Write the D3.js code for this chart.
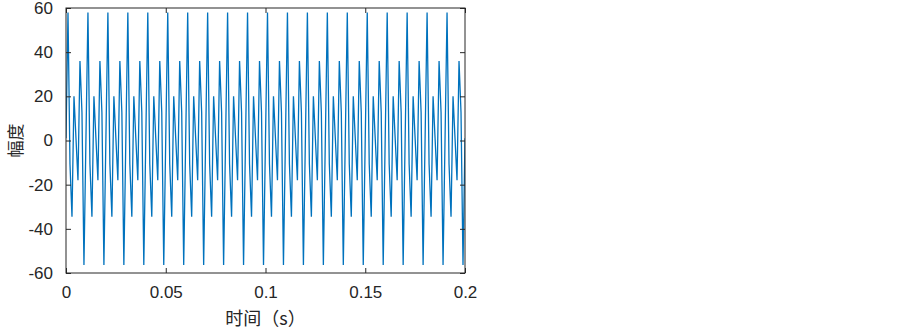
<!DOCTYPE html>
<html>
<head>
<meta charset="utf-8">
<script src="https://cdn.jsdelivr.net/npm/d3@7/dist/d3.min.js"></script>
<style>
  html, body { margin: 0; padding: 0; background: #fff; }
  svg { display: block; }
</style>
</head>
<body>
<div id="chart"></div>
<script>
// sampled signal, one value per millisecond, 0 .. 0.2 s
const sampleStep = 0.001;
const amp = [
  1, 58, -10.8, -34.5, 20, 1, -18, 36, 12.8, -56.4,
  1, 58, -10.8, -34.5, 20, 1, -18, 36, 12.8, -56.4,
  1, 58, -10.8, -34.5, 20, 1, -18, 36, 12.8, -56.4,
  1, 58, -10.8, -34.5, 20, 1, -18, 36, 12.8, -56.4,
  1, 58, -10.8, -34.5, 20, 1, -18, 36, 12.8, -56.4,
  1, 58, -10.8, -34.5, 20, 1, -18, 36, 12.8, -56.4,
  1, 58, -10.8, -34.5, 20, 1, -18, 36, 12.8, -56.4,
  1, 58, -10.8, -34.5, 20, 1, -18, 36, 12.8, -56.4,
  1, 58, -10.8, -34.5, 20, 1, -18, 36, 12.8, -56.4,
  1, 58, -10.8, -34.5, 20, 1, -18, 36, 12.8, -56.4,
  1, 58, -10.8, -34.5, 20, 1, -18, 36, 12.8, -56.4,
  1, 58, -10.8, -34.5, 20, 1, -18, 36, 12.8, -56.4,
  1, 58, -10.8, -34.5, 20, 1, -18, 36, 12.8, -56.4,
  1, 58, -10.8, -34.5, 20, 1, -18, 36, 12.8, -56.4,
  1, 58, -10.8, -34.5, 20, 1, -18, 36, 12.8, -56.4,
  1, 58, -10.8, -34.5, 20, 1, -18, 36, 12.8, -56.4,
  1, 58, -10.8, -34.5, 20, 1, -18, 36, 12.8, -56.4,
  1, 58, -10.8, -34.5, 20, 1, -18, 36, 12.8, -56.4,
  1, 58, -10.8, -34.5, 20, 1, -18, 36, 12.8, -56.4,
  1, 58, -10.8, -34.5, 20, 1, -18, 36, 12.8, -56.4,
  1
];
const xTicks = [0, 0.05, 0.1, 0.15, 0.2];
const yTicks = [-60, -40, -20, 0, 20, 40, 60];
const xLabel = '时间（s）';
const yLabel = '幅度';

const W = 903, H = 330;
const M = { left: 66, top: 8, right: 903 - 465, bottom: 330 - 273 };
const iw = W - M.left - M.right, ih = H - M.top - M.bottom;

const COL = { line: '#0072BD', axis: '#262626' };
const FONT = "'Liberation Sans', Arial, sans-serif";
const CJK = "'Noto Sans CJK SC', 'Noto Sans', sans-serif";

const svg = d3.select('#chart').append('svg')
  .attr('width', W).attr('height', H)
  .attr('viewBox', `0 0 ${W} ${H}`);

const x = d3.scaleLinear().domain([0, 0.2]).range([0, iw]);
const y = d3.scaleLinear().domain([-60, 60]).range([ih, 0]);

const g = svg.append('g').attr('transform', `translate(${M.left},${M.top})`);

const defs = svg.append('defs');
defs.append('clipPath').attr('id', 'clip')
  .append('rect').attr('width', iw).attr('height', ih);

// signal
const line = d3.line()
  .x((d, i) => x(i * sampleStep))
  .y(d => y(d));

g.append('path')
  .datum(amp)
  .attr('clip-path', 'url(#clip)')
  .attr('fill', 'none')
  .attr('stroke', COL.line)
  .attr('stroke-width', 1.3)
  .attr('stroke-linejoin', 'miter')
  .attr('d', line);

// axes, ticks point inward, mirrored on top/right
const tk = 5;
const styleAxis = sel => {
  sel.select('.domain').remove();
  sel.selectAll('line').attr('stroke', COL.axis).attr('stroke-width', 1);
  sel.selectAll('text').attr('fill', COL.axis).attr('font-family', FONT).attr('font-size', 17);
};

g.append('g')
  .attr('transform', `translate(0,${ih})`)
  .call(d3.axisBottom(x).tickValues(xTicks).tickSizeInner(-tk).tickSizeOuter(0).tickPadding(13).tickFormat(d => String(d)))
  .call(styleAxis);

g.append('g')
  .call(d3.axisTop(x).tickValues(xTicks).tickSizeInner(-tk).tickSizeOuter(0).tickFormat(''))
  .call(styleAxis);

g.append('g')
  .call(d3.axisLeft(y).tickValues(yTicks).tickSizeInner(-tk).tickSizeOuter(0).tickPadding(13).tickFormat(d => String(d)))
  .call(styleAxis);

g.append('g')
  .attr('transform', `translate(${iw},0)`)
  .call(d3.axisRight(y).tickValues(yTicks).tickSizeInner(-tk).tickSizeOuter(0).tickFormat(''))
  .call(styleAxis);

// box
g.append('rect')
  .attr('x', 0).attr('y', 0).attr('width', iw).attr('height', ih)
  .attr('fill', 'none').attr('stroke', COL.axis).attr('stroke-width', 1);

// labels
svg.append('text')
  .attr('x', M.left + iw / 2).attr('y', 325)
  .attr('text-anchor', 'middle')
  .attr('font-family', CJK).attr('font-size', 18)
  .attr('fill', COL.axis)
  .text(xLabel);

svg.append('text')
  .attr('transform', `translate(22,${M.top + ih / 2}) rotate(-90)`)
  .attr('text-anchor', 'middle')
  .attr('font-family', CJK).attr('font-size', 17)
  .attr('fill', COL.axis)
  .text(yLabel);
</script>
</body>
</html>
